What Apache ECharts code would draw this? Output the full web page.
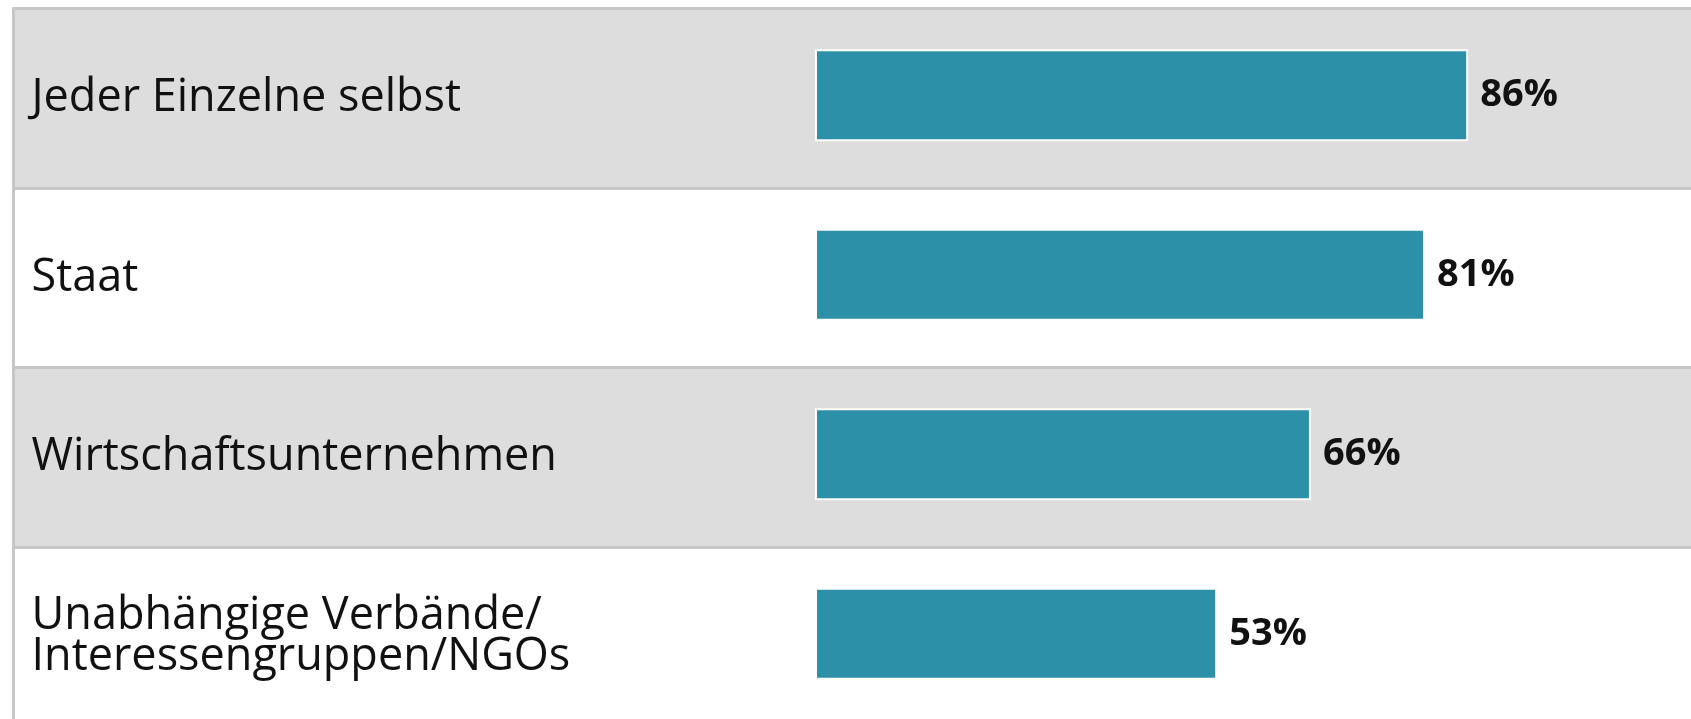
<!DOCTYPE html>
<html>
<head>
<meta charset="utf-8">
<style>
  html, body { margin: 0; padding: 0; background: #fff; overflow: hidden; }
  /* a bit taller than the window: the last row runs off the bottom */
  #chart { width: 1691px; height: 740px; }
</style>
<script src="https://cdn.jsdelivr.net/npm/echarts@6/dist/echarts.min.js"></script>
</head>
<body>
<div id="chart"></div>
<script>
// values (bars are slightly off the rounded labels)
const categories = ['Jeder Einzelne selbst', 'Staat', 'Wirtschaftsunternehmen', 'Unabhängige Verbände/\nInteressengruppen/NGOs'];
const shares = [86.4, 80.7, 65.6, 53.2];

const chart = echarts.init(document.getElementById('chart'));

const gridTop = 8.5;
const bandHeight = 718; // 4 rows of ~179.5px

chart.setOption({
  animation: false,
  grid: [
    { left: 13.5, right: 0, top: gridTop, height: bandHeight },
    { left: 815, width: 756, top: gridTop - 3, height: bandHeight }
  ],
  xAxis: [
    { gridIndex: 0, type: 'value', min: 0, max: 1, show: false },
    { gridIndex: 1, type: 'value', min: 0, max: 100, show: false }
  ],
  yAxis: [
    {
      gridIndex: 0,
      type: 'category',
      inverse: true,
      data: categories,
      axisLine: { show: true, lineStyle: { color: '#c6c6c6', width: 3 } },
      axisTick: { show: false },
      splitLine: { show: true, lineStyle: { color: '#c6c6c6', width: 3 } },
      splitArea: { show: true, areaStyle: { color: ['#dddddd', '#ffffff'] } },
      axisLabel: {
        inside: true,
        margin: 18,
        fontFamily: 'Open Sans',
        fontSize: 45,
        lineHeight: 41,
        padding: [4, 0, 0, 0],
        color: '#111'
      }
    },
    {
      gridIndex: 1,
      type: 'category',
      inverse: true,
      data: categories,
      show: false
    }
  ],
  series: [{
    type: 'bar',
    xAxisIndex: 1,
    yAxisIndex: 1,
    data: shares,
    barWidth: 92,
    itemStyle: { color: '#2b90a8', borderColor: '#ffffff', borderWidth: 2 },
    label: {
      show: true,
      position: 'right',
      distance: 12,
      formatter: p => Math.round(p.value) + '%',
      fontFamily: 'Open Sans',
      fontWeight: 'bold',
      fontSize: 38,
      color: '#111'
    }
  }]
});
</script>
</body>
</html>
